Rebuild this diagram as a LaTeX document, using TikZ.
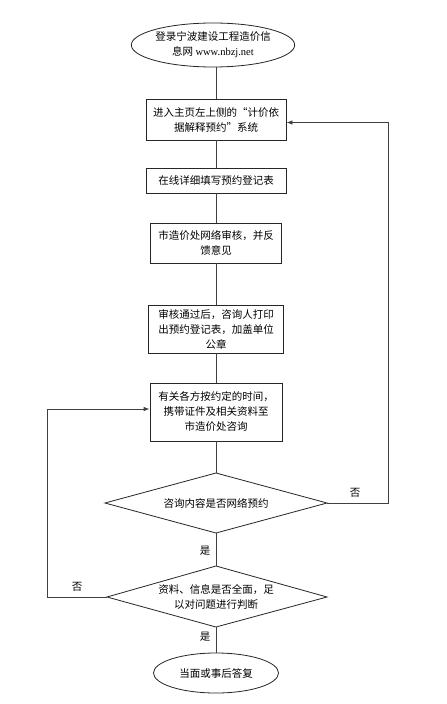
\documentclass[tikz,border=0pt]{standalone}
\usepackage{fontspec}
\setmainfont{Liberation Serif}
\newfontfamily\cjk{Noto Sans CJK SC}
\usetikzlibrary{shapes.geometric,arrows.meta}
\begin{document}
\begin{tikzpicture}[x=1pt,y=-1pt,
  every node/.style={font=\cjk\fontsize{10.5}{15}\selectfont, align=center, inner sep=0pt},
  box/.style={draw=black!85, line width=0.8pt, rectangle},
  oval/.style={draw=black!85, line width=0.8pt, ellipse},
  dia/.style={draw=black!85, line width=0.8pt},
  ln/.style={draw=black!75, line width=0.8pt},
  arr/.style={ln, -{Latex[length=6pt,width=4.5pt]}},
  lab/.style={font=\cjk\fontsize{10.5}{12}\selectfont}]
\useasboundingbox (0,0) rectangle (447,704);
\fill[white] (0,0) rectangle (447,704);
\node[oval, minimum width=136pt, minimum height=44pt] (e1) at (213,45) {登录宁波建设工程造价信\\息网 {\rmfamily www.nbzj.net}};
\node[box, minimum width=140pt, minimum height=41pt] (b2) at (216,119.5) {进入主页左上侧的“计价依\\据解释预约”系统};
\node[box, minimum width=140pt, minimum height=25pt] (b3) at (216,180.5) {在线详细填写预约登记表};
\node[box, minimum width=131pt, minimum height=40pt] (b4) at (216,243) {市造价处网络审核，并反\\馈意见};
\node[box, minimum width=135pt, minimum height=48pt] (b5) at (216,329) {审核通过后，咨询人打印\\出预约登记表，加盖单位\\公章};
\node[box, minimum width=132pt, minimum height=58pt] (b6) at (216,412) {有关各方按约定的时间，\\携带证件及相关资料至\\市造价处咨询};
% diamond 1
\coordinate (d1t) at (216,473);
\coordinate (d1b) at (216,533);
\coordinate (d1l) at (105,503);
\coordinate (d1r) at (327,503);
\draw[dia] (d1t) -- (d1r) -- (d1b) -- (d1l) -- cycle;
\node (d1) at (216,503) {咨询内容是否网络预约};
% diamond 2
\coordinate (d2t) at (216,566);
\coordinate (d2b) at (216,627);
\coordinate (d2l) at (107,597);
\coordinate (d2r) at (327,597);
\draw[dia] (d2t) -- (d2r) -- (d2b) -- (d2l) -- cycle;
\node (d2) at (216,597) {资料、信息是否全面，足\\以对问题进行判断};
\node[oval, minimum width=125pt, minimum height=40pt] (e2) at (216,673) {当面或事后答复};
\draw[ln] (e1.south -| b2.north) -- (b2.north);
\draw[ln] (b2) -- (b3);
\draw[ln] (b3) -- (b4);
\draw[ln] (b4) -- (b5);
\draw[ln] (b5) -- (b6);
\draw[ln] (b6) -- (d1t);
\draw[ln] (d1b) -- (d2t);
\draw[ln] (d2b) -- (e2);
\coordinate (r1) at (388,503);
\coordinate (l1) at (47,597);
\draw[arr] (d1r) -- (r1) |- ([yshift=-3pt]b2.east);
\draw[arr] (d2l) -- (l1) |- ([yshift=3pt]b6.west);
\node[lab] (n1) at (355,493) {否};
\node[lab] (y1) at (205,551) {是};
\node[lab] (n2) at (77,587) {否};
\node[lab] (y2) at (205,637) {是};
\end{tikzpicture}
\end{document}
